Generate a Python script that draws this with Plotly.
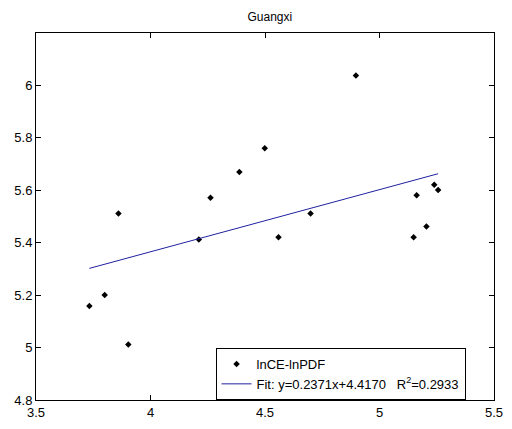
import plotly.graph_objects as go

title = "Guangxi"
x_vals = [3.733, 3.800, 3.860, 3.903, 4.211, 4.262, 4.388, 4.499, 4.559, 4.699,
          4.897, 5.149, 5.162, 5.205, 5.239, 5.256]
y_vals = [5.159, 5.201, 5.511, 5.012, 5.412, 5.572, 5.670, 5.760, 5.421, 5.511,
          6.038, 5.421, 5.581, 5.462, 5.621, 5.601]
slope = 0.2371
intercept = 4.4170
r2 = 0.2933
x_ticks = [3.5, 4, 4.5, 5, 5.5]
y_ticks = [4.8, 5, 5.2, 5.4, 5.6, 5.8, 6]

fit_x = [min(x_vals), max(x_vals)]
fit_y = [slope * v + intercept for v in fit_x]

fig = go.Figure()
fig.add_trace(go.Scatter(x=x_vals, y=y_vals, mode="markers", name="lnCE-lnPDF",
                         marker=dict(symbol="diamond", size=5, color="black")))
fig.add_trace(go.Scatter(x=fit_x, y=fit_y, mode="lines",
                         name=f"Fit: y={slope:.4f}x+{intercept:.4f}   R<sup>2</sup>={r2:.4f}",
                         line=dict(color="#2020a0", width=1)))

axis_common = dict(showline=True, linecolor="black", linewidth=1, mirror="allticks",
                   ticks="inside", ticklen=5, tickcolor="black", showgrid=False,
                   zeroline=False, tickfont=dict(family="Liberation Sans, Arial", size=13, color="black"))

fig.update_layout(
    width=512, height=429,
    margin=dict(l=36, r=9, t=33, b=23),
    paper_bgcolor="white", plot_bgcolor="white",
    title=dict(text=title, x=0.527, xanchor="center", y=0.96, yanchor="middle",
               font=dict(family="Liberation Sans, Arial", size=12, color="black")),
    xaxis=dict(range=[3.5, 5.5], tickvals=x_ticks, ticktext=[str(t) for t in x_ticks], **axis_common),
    yaxis=dict(range=[4.8, 6.2], tickvals=y_ticks, ticktext=[str(t) for t in y_ticks], **axis_common),
    legend=dict(x=0.392, y=0.0, xanchor="left", yanchor="bottom",
                bgcolor="white", bordercolor="black", borderwidth=1,
                font=dict(family="Liberation Sans, Arial", size=13, color="black"),
                tracegroupgap=0),
    showlegend=True,
)

fig.write_html("out.html")
